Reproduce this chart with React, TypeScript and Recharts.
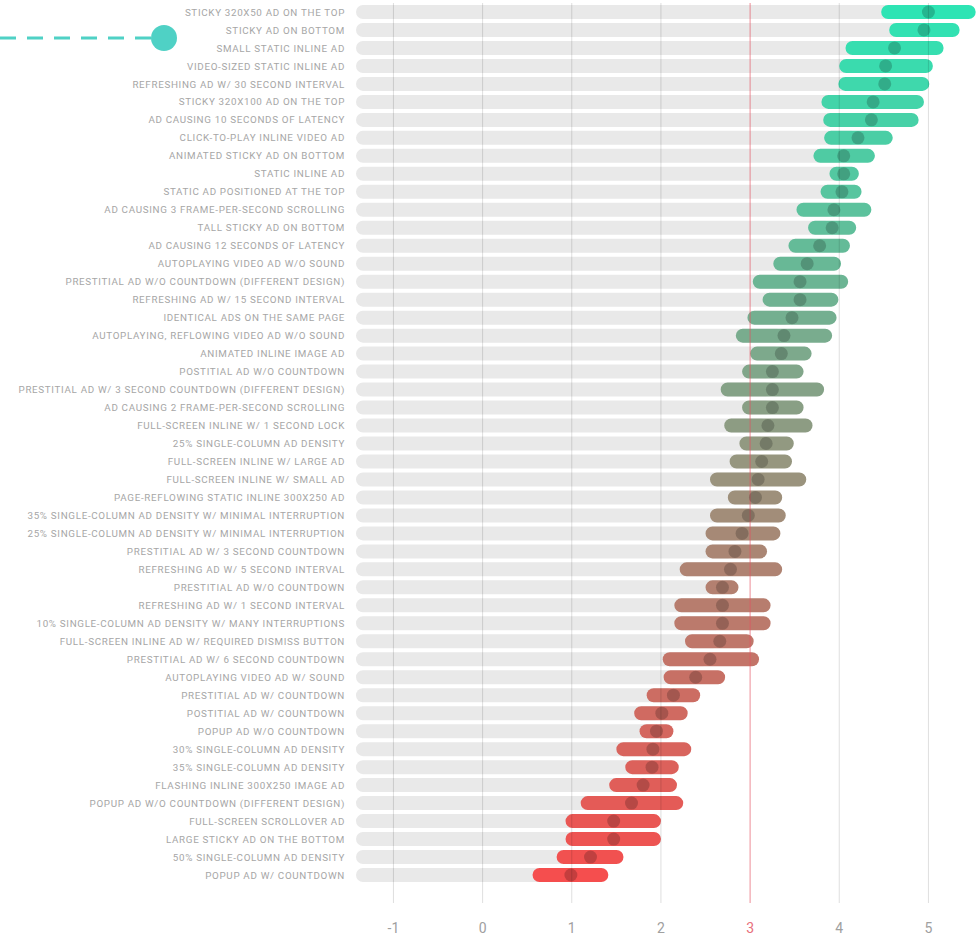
import {
  ComposedChart,
  Bar,
  Line,
  XAxis,
  YAxis,
  ReferenceLine,
  Cell
} from "recharts"

const labels = [
  "STICKY 320X50 AD ON THE TOP",
  "STICKY AD ON BOTTOM",
  "SMALL STATIC INLINE AD",
  "VIDEO-SIZED STATIC INLINE AD",
  "REFRESHING AD W/ 30 SECOND INTERVAL",
  "STICKY 320X100 AD ON THE TOP",
  "AD CAUSING 10 SECONDS OF LATENCY",
  "CLICK-TO-PLAY INLINE VIDEO AD",
  "ANIMATED STICKY AD ON BOTTOM",
  "STATIC INLINE AD",
  "STATIC AD POSITIONED AT THE TOP",
  "AD CAUSING 3 FRAME-PER-SECOND SCROLLING",
  "TALL STICKY AD ON BOTTOM",
  "AD CAUSING 12 SECONDS OF LATENCY",
  "AUTOPLAYING VIDEO AD W/O SOUND",
  "PRESTITIAL AD W/O COUNTDOWN (DIFFERENT DESIGN)",
  "REFRESHING AD W/ 15 SECOND INTERVAL",
  "IDENTICAL ADS ON THE SAME PAGE",
  "AUTOPLAYING, REFLOWING VIDEO AD W/O SOUND",
  "ANIMATED INLINE IMAGE AD",
  "POSTITIAL AD W/O COUNTDOWN",
  "PRESTITIAL AD W/ 3 SECOND COUNTDOWN (DIFFERENT DESIGN)",
  "AD CAUSING 2 FRAME-PER-SECOND SCROLLING",
  "FULL-SCREEN INLINE W/ 1 SECOND LOCK",
  "25% SINGLE-COLUMN AD DENSITY",
  "FULL-SCREEN INLINE W/ LARGE AD",
  "FULL-SCREEN INLINE W/ SMALL AD",
  "PAGE-REFLOWING STATIC INLINE 300X250 AD",
  "35% SINGLE-COLUMN AD DENSITY W/ MINIMAL INTERRUPTION",
  "25% SINGLE-COLUMN AD DENSITY W/ MINIMAL INTERRUPTION",
  "PRESTITIAL AD W/ 3 SECOND COUNTDOWN",
  "REFRESHING AD W/ 5 SECOND INTERVAL",
  "PRESTITIAL AD W/O COUNTDOWN",
  "REFRESHING AD W/ 1 SECOND INTERVAL",
  "10% SINGLE-COLUMN AD DENSITY W/ MANY INTERRUPTIONS",
  "FULL-SCREEN INLINE AD W/ REQUIRED DISMISS BUTTON",
  "PRESTITIAL AD W/ 6 SECOND COUNTDOWN",
  "AUTOPLAYING VIDEO AD W/ SOUND",
  "PRESTITIAL AD W/ COUNTDOWN",
  "POSTITIAL AD W/ COUNTDOWN",
  "POPUP AD W/O COUNTDOWN",
  "30% SINGLE-COLUMN AD DENSITY",
  "35% SINGLE-COLUMN AD DENSITY",
  "FLASHING INLINE 300X250 IMAGE AD",
  "POPUP AD W/O COUNTDOWN (DIFFERENT DESIGN)",
  "FULL-SCREEN SCROLLOVER AD",
  "LARGE STICKY AD ON THE BOTTOM",
  "50% SINGLE-COLUMN AD DENSITY",
  "POPUP AD W/ COUNTDOWN"
]

const lows = [
  4.47, 4.56, 4.07, 4.0, 3.99, 3.8, 3.82, 3.83, 3.71, 3.89, 3.79, 3.52, 3.65,
  3.43, 3.26, 3.03, 3.14, 2.97, 2.84, 3.0, 2.91, 2.67, 2.91, 2.71, 2.88, 2.77,
  2.55, 2.75, 2.55, 2.5, 2.5, 2.21, 2.5, 2.15, 2.15, 2.27, 2.02, 2.03, 1.84,
  1.7, 1.76, 1.5, 1.6, 1.42, 1.1, 0.93, 0.93, 0.83, 0.56
]

const highs = [
  5.53, 5.35, 5.17, 5.05, 5.01, 4.95, 4.89, 4.6, 4.4, 4.22, 4.25, 4.36, 4.19,
  4.12, 4.02, 4.1, 3.99, 3.97, 3.92, 3.69, 3.6, 3.83, 3.6, 3.7, 3.49, 3.47,
  3.63, 3.36, 3.4, 3.34, 3.19, 3.36, 2.87, 3.23, 3.23, 3.04, 3.1, 2.72, 2.44,
  2.3, 2.14, 2.34, 2.2, 2.18, 2.25, 2.0, 2.0, 1.58, 1.41
]

const means = [
  5.0, 4.95, 4.62, 4.52, 4.51, 4.38, 4.36, 4.21, 4.05, 4.05, 4.03, 3.94, 3.92,
  3.78, 3.64, 3.56, 3.56, 3.47, 3.38, 3.35, 3.25, 3.25, 3.25, 3.2, 3.18, 3.13,
  3.09, 3.06, 2.98, 2.91, 2.83, 2.78, 2.69, 2.69, 2.69, 2.66, 2.55, 2.39, 2.14,
  2.01, 1.95, 1.91, 1.9, 1.8, 1.67, 1.47, 1.47, 1.21, 0.99
]

const xTicks = [-1, 0, 1, 2, 3, 4, 5]
const xMin = -1.42
const xMax = 5.556

const data = labels.map((name, i) => ({
  name,
  track: [xMin, means[i]],
  range: [lows[i], highs[i]],
  mean: means[i]
}))

const TOP = [46, 228, 180]
const BOTTOM = [245, 78, 78]

function rowColor(i: number) {
  const t = i / (labels.length - 1)
  const c = TOP.map((v, k) => Math.round(v + (BOTTOM[k] - v) * t))
  return `rgb(${c[0]},${c[1]},${c[2]})`
}

function XTick(props: any) {
  const { x, y, payload } = props
  const red = payload.value === 3
  return (
    <text
      x={x}
      y={y + 22}
      textAnchor="middle"
      fontSize={14}
      fontFamily="Roboto, sans-serif"
      fill={red ? "#e8707c" : "#a0a0a0"}
    >
      {payload.value}
    </text>
  )
}

function YTick(props: any) {
  const { x, y, payload } = props
  return (
    <text
      x={x}
      y={y}
      dy={3.6}
      textAnchor="end"
      fontSize={9.8}
      letterSpacing={0.68}
      fontFamily="Roboto, sans-serif"
      fill="#a6a6a6"
    >
      {payload.value}
    </text>
  )
}

export default function App() {
  return (
    <div style={{ position: "absolute", left: 0, top: 0, width: 978, height: 938, background: "#fff" }}>

      <ComposedChart
        width={978}
        height={938}
        data={data}
        layout="vertical"
        margin={{ top: 3, right: 0, bottom: 0, left: 0 }}
        barGap={-14}
      >

        <XAxis
          type="number"
          domain={[xMin, xMax]}
          ticks={xTicks}
          axisLine={false}
          tickLine={false}
          height={35}
          tick={<XTick />}
        />

        <YAxis
          type="category"
          dataKey="name"
          width={356}
          interval={0}
          axisLine={false}
          tickLine={false}
          tickMargin={5}
          padding={{ top: 0, bottom: 19 }}
          tick={<YTick />}
        />

        <Bar
          dataKey="track"
          barSize={14}
          fill="#e9e9e9"
          radius={7}
          isAnimationActive={false}
        />

        <Bar
          dataKey="range"
          barSize={14}
          radius={7}
          isAnimationActive={false}
        >
          {data.map((d, i) => (
            <Cell key={d.name} fill={rowColor(i)} />
          ))}
        </Bar>

        <Line
          dataKey="mean"
          stroke="none"
          dot={{ r: 6.5, fill: "#000", fillOpacity: 0.2, stroke: "none" }}
          activeDot={false}
          isAnimationActive={false}
        />

        {xTicks.map(t => (
          <ReferenceLine
            key={t}
            x={t}
            stroke={t === 3 ? "rgba(228,80,95,0.65)" : "rgba(0,0,0,0.13)"}
            strokeWidth={1}
          />
        ))}

      </ComposedChart>

      <svg
        width={200}
        height={60}
        style={{ position: "absolute", left: 0, top: 8 }}
      >
        <line
          x1={0}
          y1={30}
          x2={152}
          y2={30}
          stroke="#4fd1c5"
          strokeWidth={3}
          strokeDasharray="16 11"
        />
        <circle cx={164} cy={30} r={13} fill="#4fd1c5" />
      </svg>

    </div>
  )
}
